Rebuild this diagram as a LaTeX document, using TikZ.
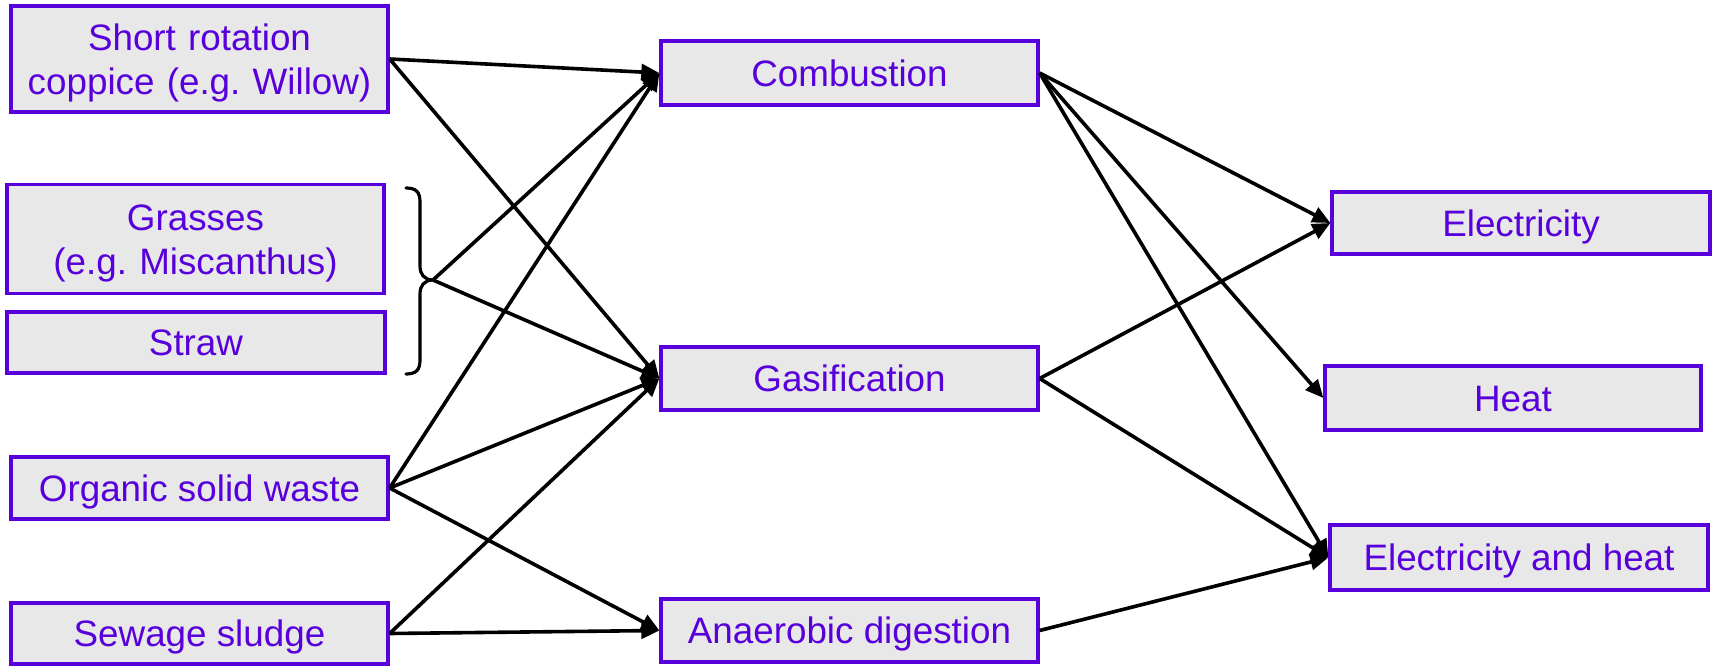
\documentclass[tikz,border=0pt]{standalone}
\usepackage{fontspec}
\setmainfont{Liberation Sans}
\usetikzlibrary{arrows.meta}
\definecolor{pur}{RGB}{88,0,220}
\definecolor{boxgray}{RGB}{232,232,232}
\frenchspacing
\begin{document}
\begin{tikzpicture}[x=0.5pt,y=-0.5pt,
  box/.style={draw=pur, fill=boxgray, line width=1.65pt, text=pur, inner sep=0pt,
    align=center, font=\fontsize{18.4}{22}\selectfont\frenchspacing},
  oneline/.style={box, text height=13.2pt, text depth=0pt},
  twoline/.style={box, text width=185pt, text height=13.2pt, text depth=22pt},
  arr/.style={line width=1.8pt, -{Triangle[length=9pt,width=8pt]}},
  bracepath/.style={line width=1.6pt, line cap=round}]
\useasboundingbox (0,0) rectangle (1713,668);
% sources
\node[twoline, minimum width=188.5pt, minimum height=53pt] (src) at (199.5,59) {Short rotation\\coppice (e.g. Willow)};
\node[twoline, minimum width=188.5pt, minimum height=54.5pt] (grass) at (195.5,239) {Grasses\\(e.g. Miscanthus)};
\node[oneline, minimum width=189pt, minimum height=30.5pt] (straw) at (196,342.5) {Straw};
\node[oneline, minimum width=188.5pt, minimum height=31pt] (org) at (199.5,488) {Organic solid waste};
\node[oneline, minimum width=188.5pt, minimum height=30.5pt] (sew) at (199.5,633.5) {Sewage sludge};
% processes
\node[oneline, minimum width=188.5pt, minimum height=32pt] (comb) at (849.5,73) {Combustion};
\node[oneline, minimum width=188.5pt, minimum height=31.5pt] (gas) at (849.5,378.5) {Gasification};
\node[oneline, minimum width=188.5pt, minimum height=31.5pt] (ana) at (849.5,630.5) {Anaerobic digestion};
% products
\node[oneline, minimum width=189pt, minimum height=31pt] (elec) at (1521,223) {Electricity};
\node[oneline, minimum width=188pt, minimum height=32pt] (heat) at (1513,398) {Heat};
\node[oneline, minimum width=189pt, minimum height=32.5pt] (eh) at (1519,557.5) {Electricity and heat};
% brace
\coordinate (brtip) at (433,280);
\draw[bracepath] (406,188) .. controls (416,188) and (420,192) .. (420,202)
  -- (420,266) .. controls (420,274) and (424,280) .. (brtip)
  .. controls (424,280) and (420,286) .. (420,294)
  -- (420,360) .. controls (420,370) and (416,374) .. (406,374);
% arrows left
\draw[arr] (src.east) -- (comb.west);
\draw[arr] (src.east) -- (gas.west);
\draw[arr] (brtip) -- (comb.west);
\draw[arr] (brtip) -- (gas.west);
\draw[arr] (org.east) -- (comb.west);
\draw[arr] (org.east) -- (gas.west);
\draw[arr] (org.east) -- (ana.west);
\draw[arr] (sew.east) -- (gas.west);
\draw[arr] (sew.east) -- (ana.west);
% arrows right
\draw[arr] (comb.east) -- (elec.west);
\draw[arr] (comb.east) -- (heat.west);
\draw[arr] (comb.east) -- (eh.west);
\draw[arr] (gas.east) -- (elec.west);
\draw[arr] (gas.east) -- (eh.west);
\draw[arr] (ana.east) -- (eh.west);
\end{tikzpicture}
\end{document}
